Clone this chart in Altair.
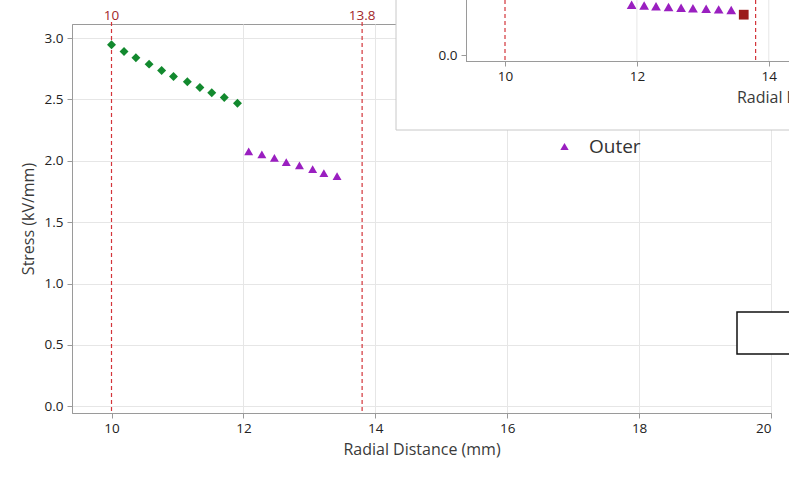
import altair as alt
import pandas as pd

# ---- data ----
inner_x = [10.0, 10.19, 10.37, 10.57, 10.76, 10.94, 11.15, 11.34, 11.52, 11.71, 11.91]
inner_y = [2.946, 2.891, 2.840, 2.788, 2.736, 2.687, 2.644, 2.597, 2.554, 2.516, 2.469]
outer_x = [12.08, 12.28, 12.47, 12.65, 12.85, 13.05, 13.22, 13.42]
outer_y = [2.077, 2.053, 2.025, 1.989, 1.962, 1.932, 1.900, 1.875]
boundaries = [10.0, 13.8]
boundary_labels = ["10", "13.8"]

# inset (overlapping screenshot, top right)
inset_outer_x = [11.92, 12.11, 12.29, 12.48, 12.67, 12.85, 13.05, 13.24, 13.43]
inset_outer_y = [2.096, 2.06, 2.03, 2.0, 1.97, 1.95, 1.93, 1.90, 1.875]
inset_end_x = [13.62]
inset_end_y = [1.68]
inset_grid_x = [12.0, 14.0]

x_ticks = [10, 12, 14, 16, 18, 20]
y_ticks = [0.0, 0.5, 1.0, 1.5, 2.0, 2.5, 3.0]

series = ["Inner", "Outer", "End"]
series_colors = ["#12892e", "#9a1fc0", "#9b1b1b"]
series_shapes = ["diamond", "triangle-up", "square"]

FONT = "Open Sans"

main_df = pd.DataFrame({
    "r": inner_x + outer_x,
    "stress": inner_y + outer_y,
    "layer": ["Inner"] * len(inner_x) + ["Outer"] * len(outer_x),
})
bound_df = pd.DataFrame({"r": boundaries, "label": boundary_labels})
inset_df = pd.DataFrame({
    "r": inset_outer_x + inset_end_x,
    "stress": inset_outer_y + inset_end_y,
    "layer": ["Outer"] * len(inset_outer_x) + ["End"] * len(inset_end_x),
})
inset_grid_df = pd.DataFrame({"r": inset_grid_x})
dummy = pd.DataFrame({"a": [0]})

W, H = 699, 389

main_x_scale = alt.Scale(domain=[9.401, 20], nice=False, zero=False)
main_y_scale = alt.Scale(domain=[-0.055, 3.115], nice=False, zero=False)
inset_x_scale = alt.Scale(domain=[9.401, 20], range=[393.5, 1092.5], nice=False, zero=False)
inset_y_scale = alt.Scale(domain=[-0.25, 2.5], range=[37, -29], nice=False, zero=False)

axis_common = dict(
    domainColor="#9a9a9a", tickColor="#9a9a9a", tickSize=5,
    labelFont=FONT, labelFontSize=13.5, labelColor="#222222",
    titleFont=FONT, titleFontSize=16, titleFontWeight="normal", titleColor="#3a3a3a",
)

main_x_axis = alt.Axis(values=x_ticks, format="d", title="Radial Distance (mm)",
                       labelPadding=3, titlePadding=7, grid=True,
                       gridColor=alt.condition("datum.value == 10",
                                               alt.value("transparent"),
                                               alt.value("#e6e6e6")),
                       **axis_common)
main_y_axis = alt.Axis(values=y_ticks, format=".1f", title="Stress (kV/mm)",
                       labelPadding=4, titlePadding=8, grid=True, gridColor="#e6e6e6",
                       **axis_common)
inset_x_axis = alt.Axis(values=x_ticks, format="d", title="Radial Distance (mm)",
                        orient="bottom", offset=-352, zindex=1, grid=False,
                        labelPadding=3, titlePadding=7, **axis_common)
inset_y_axis = alt.Axis(values=[0.0], format=".1f", title=None, orient="left",
                        offset=-394, zindex=1, grid=False, labelPadding=4, **axis_common)

color_scale = alt.Scale(domain=series, range=series_colors)
shape_scale = alt.Scale(domain=series, range=series_shapes)
legend = alt.Legend(values=["Outer"], orient="none", legendX=483, legendY=113,
                    title=None, labelFont=FONT, labelFontSize=19, labelColor="#333333",
                    symbolSize=70, labelOffset=15, padding=0, symbolStrokeWidth=0)

# ---- main chart ----
main_rules = alt.Chart(bound_df).mark_rule(
    color="#d3343a", strokeDash=[4, 3], strokeWidth=1.2
).encode(
    x=alt.X("r:Q", scale=main_x_scale, axis=main_x_axis),
    y=alt.value(-2), y2=alt.value(H),
)
main_labels = alt.Chart(bound_df).mark_text(
    font=FONT, fontSize=13.5, color="#a3282b", baseline="middle", align="center"
).encode(
    x=alt.X("r:Q", scale=main_x_scale, axis=main_x_axis),
    y=alt.value(-8),
    text="label:N",
)
main_points = alt.Chart(main_df).mark_point(filled=True, size=80, opacity=1).encode(
    x=alt.X("r:Q", scale=main_x_scale, axis=main_x_axis),
    y=alt.Y("stress:Q", scale=main_y_scale, axis=main_y_axis),
    color=alt.Color("layer:N", scale=color_scale, legend=legend),
    shape=alt.Shape("layer:N", scale=shape_scale, legend=legend),
)
main = alt.layer(main_rules, main_points, main_labels)

# ---- overlapping inset (top right) ----
inset_box = alt.Chart(dummy).mark_rect(
    fill="white", stroke="#c8c8c8", strokeWidth=1
).encode(x=alt.value(324), x2=alt.value(760), y=alt.value(-40), y2=alt.value(106))
inset_grid = alt.Chart(inset_grid_df).mark_rule(color="#e6e6e6", strokeWidth=1).encode(
    x=alt.X("r:Q", scale=inset_x_scale, axis=inset_x_axis),
    y=alt.value(-24), y2=alt.value(37),
)
inset_rules = alt.Chart(bound_df).mark_rule(
    color="#d3343a", strokeDash=[4, 3], strokeWidth=1.2
).encode(
    x=alt.X("r:Q", scale=inset_x_scale, axis=inset_x_axis),
    y=alt.value(-24), y2=alt.value(37),
)
inset_points = alt.Chart(inset_df).mark_point(filled=True, size=95, opacity=1).encode(
    x=alt.X("r:Q", scale=inset_x_scale, axis=inset_x_axis),
    y=alt.Y("stress:Q", scale=inset_y_scale, axis=inset_y_axis),
    color=alt.Color("layer:N", scale=color_scale, legend=legend),
    shape=alt.Shape("layer:N", scale=shape_scale, legend=legend),
)
note_box = alt.Chart(dummy).mark_rect(
    fill="white", stroke="#111111", strokeWidth=1.5
).encode(x=alt.value(665), x2=alt.value(730), y=alt.value(288), y2=alt.value(330))

inset = alt.layer(inset_box, inset_points, inset_grid, inset_rules, note_box)

chart = alt.layer(main, inset).resolve_scale(
    x="independent", y="independent"
).properties(
    width=W, height=H,
    autosize=alt.AutoSizeParams(type="none"),
    padding={"left": 72, "top": 24, "right": 18, "bottom": 66},
    background="white",
).configure_view(stroke="#9a9a9a", strokeWidth=1)

chart.save("out.html", embed_options={"renderer": "svg", "actions": False})
